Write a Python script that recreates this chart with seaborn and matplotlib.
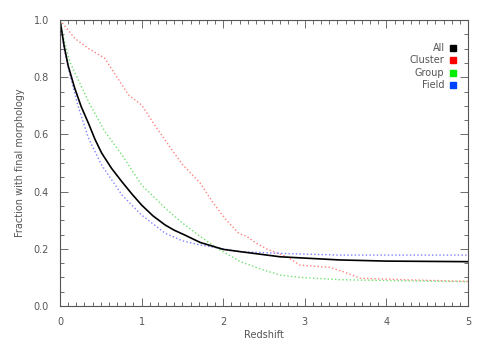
import matplotlib
matplotlib.use("Agg")
import matplotlib.pyplot as plt
import seaborn as sns
from matplotlib.lines import Line2D
from matplotlib.ticker import MultipleLocator, FormatStrFormatter

# data
z_all = [0, 0.05, 0.1, 0.18, 0.26, 0.35, 0.43, 0.51, 0.63, 0.76, 0.88, 1.0, 1.14, 1.29, 1.4, 1.53, 1.72,
         2.0, 2.21, 2.7, 3.43, 4.0, 5.0]
f_all = [1.0, 0.91, 0.84, 0.762, 0.697, 0.638, 0.582, 0.535, 0.482, 0.434, 0.392, 0.353, 0.315, 0.283, 0.265,
         0.248, 0.222, 0.198, 0.19, 0.172, 0.161, 0.157, 0.155]

z_cluster = [0, 0.18, 0.35, 0.55, 0.63, 0.84, 1.0, 1.16, 1.33, 1.5, 1.72, 1.88, 2.04, 2.19, 2.29,
             2.41, 2.53, 2.78, 2.94, 3.31, 3.47, 3.68, 4.2, 5.0]
f_cluster = [1.0, 0.936, 0.90, 0.866, 0.83, 0.738, 0.703, 0.633, 0.563, 0.495, 0.429, 0.359, 0.30, 0.254, 0.243,
             0.219, 0.20, 0.172, 0.143, 0.135, 0.12, 0.097, 0.092, 0.086]

z_group = [0, 0.05, 0.12, 0.35, 0.55, 0.76, 1.0, 1.29, 1.5, 1.72, 1.96, 2.21, 2.49, 2.7, 2.94, 3.43, 4.2, 5.0]
f_group = [1.0, 0.93, 0.854, 0.714, 0.61, 0.528, 0.423, 0.342, 0.29, 0.243, 0.196, 0.155, 0.126, 0.108, 0.10, 0.092, 0.088, 0.085]

z_field = [0, 0.05, 0.12, 0.22, 0.35, 0.51, 0.76, 1.0, 1.29, 1.5, 1.72, 2.21, 2.7, 3.43, 5.0]
f_field = [1.0, 0.90, 0.81, 0.70, 0.586, 0.493, 0.388, 0.318, 0.254, 0.228, 0.213, 0.19, 0.184, 0.178, 0.178]

sns.set_style("ticks")
plt.rcParams['font.family'] = ['DejaVu Sans']
grey = '#555555'

fig = plt.figure(figsize=(4.85, 3.46), dpi=100)
ax = fig.add_axes([60 / 485, 40 / 346, 408 / 485, 286 / 346])

sns.lineplot(x=z_cluster, y=f_cluster, ax=ax, color='#ff8080', linestyle=':', linewidth=1.0)
sns.lineplot(x=z_group, y=f_group, ax=ax, color='#70e070', linestyle=':', linewidth=1.0)
sns.lineplot(x=z_field, y=f_field, ax=ax, color='#8080ff', linestyle=':', linewidth=1.0)
sns.lineplot(x=z_all, y=f_all, ax=ax, color='black', linewidth=1.2)

ax.set_xlim(0, 5)
ax.set_ylim(0, 1)
ax.xaxis.set_major_locator(MultipleLocator(1))
ax.xaxis.set_minor_locator(MultipleLocator(0.1))
ax.yaxis.set_major_locator(MultipleLocator(0.2))
ax.yaxis.set_minor_locator(MultipleLocator(0.05))
ax.xaxis.set_major_formatter(FormatStrFormatter('%d'))
ax.yaxis.set_major_formatter(FormatStrFormatter('%.1f'))
ax.tick_params(which='both', direction='in', top=True, right=True, color=grey,
               labelcolor=grey, labelsize=7, width=0.6)
ax.tick_params(which='major', length=6, pad=8)
ax.tick_params(which='minor', length=3)
for s in ax.spines.values():
    s.set_color(grey)
    s.set_linewidth(0.8)

ax.set_xlabel("Redshift", fontsize=7, color=grey, labelpad=2)
ax.set_ylabel("Fraction with final morphology", fontsize=7, color=grey, labelpad=6)

handles = [Line2D([], [], marker='s', linestyle='none', color=c, markersize=5)
           for c in ['black', '#ff0000', '#00ee00', '#0040ff']]
leg = ax.legend(handles, ['All', 'Cluster', 'Group', 'Field'], loc='upper right',
                bbox_to_anchor=(0.995, 0.95), frameon=False, markerfirst=False,
                fontsize=7, handlelength=0.8, handletextpad=0.5, labelspacing=0.25,
                alignment='right')
for t in leg.get_texts():
    t.set_color(grey)
    t.set_ha('right')

fig.savefig("out.png", dpi=100)
